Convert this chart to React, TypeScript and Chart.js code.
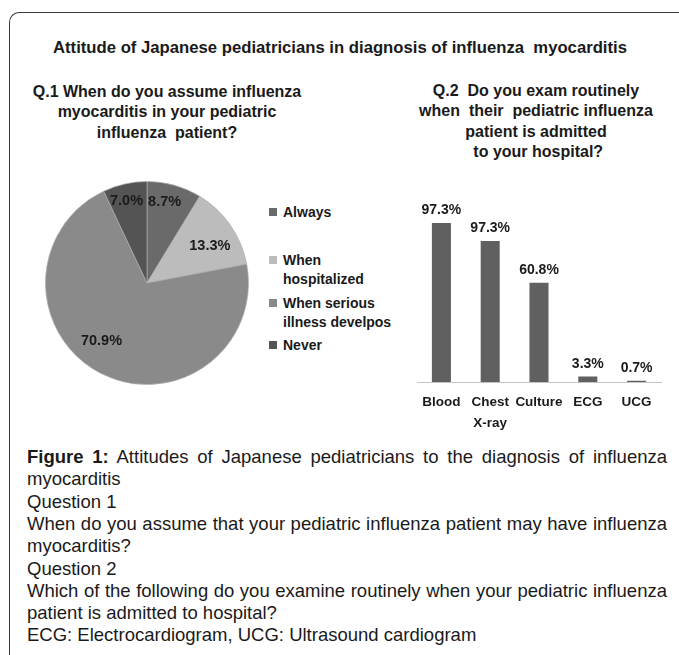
import React, { useEffect, useRef } from 'react';
import { Chart, registerables } from 'chart.js';

Chart.register(...registerables);

// ---------- data ----------
const pieLabels: string[][] = [['Always'], ['When', 'hospitalized'], ['When serious', 'illness develpos'], ['Never']];
const pieValues: number[] = [8.7, 13.3, 70.9, 7.0];
const pieValueLabels: string[] = ['8.7%', '13.3%', '70.9%', '7.0%'];

const barCategories: string[][] = [['Blood'], ['Chest', 'X-ray'], ['Culture'], ['ECG'], ['UCG']];
const barValues: number[] = [97.3, 86.3, 60.8, 3.3, 0.7];
const barValueLabels: string[] = ['97.3%', '97.3%', '60.8%', '3.3%', '0.7%'];

const mainTitle = 'Attitude of Japanese pediatricians in diagnosis of influenza  myocarditis';
const q1Title: string[] = ['Q.1 When do you assume influenza', 'myocarditis in your pediatric', 'influenza  patient?'];
const q2Title: string[] = ['Q.2  Do you exam routinely', 'when  their  pediatric influenza', 'patient is admitted', ' to your hospital?'];

const captionLines: { bold?: string; text: string; justify: boolean }[] = [
  { bold: 'Figure 1:', text: ' Attitudes of Japanese pediatricians to the diagnosis of influenza', justify: true },
  { text: 'myocarditis', justify: false },
  { text: 'Question 1', justify: false },
  { text: 'When do you assume that your pediatric influenza patient may have influenza', justify: true },
  { text: 'myocarditis?', justify: false },
  { text: 'Question 2', justify: false },
  { text: 'Which of the following do you examine routinely when your pediatric influenza', justify: true },
  { text: 'patient is admitted to hospital?', justify: false },
  { text: 'ECG: Electrocardiogram, UCG: Ultrasound cardiogram', justify: false },
];

// ---------- styles ----------
const FONT = '"Liberation Sans", Arial, Helvetica, sans-serif';
const TEXT = '#1a1a1a';
const pieColors = ['#6a6a6a', '#bcbcbc', '#8a8a8a', '#545454'];
const barColor = '#606060';
const legendTops = [212, 260, 303, 345];
// label placement inside slices (fraction of radius, angular shift in radians)
const pieLabelRadius = [0.82, 0.72, 0.73, 0.83];
const pieLabelShift = [-0.06, 0.07, 0.19, -0.025];

function PieChart() {
  const ref = useRef<HTMLCanvasElement>(null);
  useEffect(() => {
    const labelPlugin = {
      id: 'pieValueLabels',
      afterDatasetsDraw(chart: any) {
        const ctx = chart.ctx;
        const meta = chart.getDatasetMeta(0);
        ctx.save();
        ctx.font = `bold 14.5px ${FONT}`;
        ctx.fillStyle = TEXT;
        ctx.textAlign = 'center';
        ctx.textBaseline = 'middle';
        meta.data.forEach((arc: any, i: number) => {
          const p = arc.getProps(['x', 'y', 'startAngle', 'endAngle', 'outerRadius'], true);
          const mid = (p.startAngle + p.endAngle) / 2 + pieLabelShift[i];
          const r = p.outerRadius * pieLabelRadius[i];
          ctx.fillText(pieValueLabels[i], p.x + Math.cos(mid) * r, p.y + Math.sin(mid) * r);
        });
        ctx.restore();
      },
    };
    const chart = new Chart(ref.current as HTMLCanvasElement, {
      type: 'pie',
      data: {
        labels: pieLabels.map((l) => l.join(' ')),
        datasets: [
          {
            data: pieValues,
            backgroundColor: pieColors,
            borderColor: 'rgba(175,175,175,0.7)',
            borderWidth: 1,
            hoverOffset: 0,
          },
        ],
      },
      options: {
        responsive: false,
        animation: false,
        events: [],
        layout: { padding: 0 },
        plugins: { legend: { display: false }, tooltip: { enabled: false } },
      },
      plugins: [labelPlugin],
    } as any);
    return () => chart.destroy();
  }, []);
  return (
    <canvas
      ref={ref}
      width={204}
      height={204}
      style={{ position: 'absolute', left: 45, top: 181, width: 204, height: 204 }}
    />
  );
}

function BarChart() {
  const ref = useRef<HTMLCanvasElement>(null);
  useEffect(() => {
    const valuePlugin = {
      id: 'barValueLabels',
      afterDatasetsDraw(chart: any) {
        const ctx = chart.ctx;
        const meta = chart.getDatasetMeta(0);
        ctx.save();
        ctx.font = `bold 14px ${FONT}`;
        ctx.fillStyle = TEXT;
        ctx.textAlign = 'center';
        ctx.textBaseline = 'middle';
        meta.data.forEach((bar: any, i: number) => {
          const p = bar.getProps(['x', 'y'], true);
          ctx.fillText(barValueLabels[i], p.x, p.y - 12.5);
        });
        ctx.restore();
      },
    };
    const chart = new Chart(ref.current as HTMLCanvasElement, {
      type: 'bar',
      data: {
        labels: barCategories,
        datasets: [
          {
            data: barValues,
            backgroundColor: barColor,
            categoryPercentage: 1,
            barPercentage: 0.39,
          },
        ],
      },
      options: {
        responsive: false,
        animation: false,
        events: [],
        layout: { padding: { top: 28.6, left: 17, right: 18, bottom: 8 } },
        plugins: { legend: { display: false }, tooltip: { enabled: false } },
        scales: {
          x: {
            grid: { display: false, drawTicks: false },
            border: { display: true, color: '#c4c4c4', width: 1 },
            ticks: {
              font: { family: FONT, size: 13.5, weight: 'bold', lineHeight: 1.6 },
              color: TEXT,
              padding: 9,
              maxRotation: 0,
              autoSkip: false,
            },
            afterFit: (s: any) => {
              s.height = 50;
            },
          },
          y: { display: false, min: 0, max: 100 },
        },
      },
      plugins: [valuePlugin],
    } as any);
    return () => chart.destroy();
  }, []);
  return (
    <canvas
      ref={ref}
      width={279}
      height={250}
      style={{ position: 'absolute', left: 400, top: 190, width: 279, height: 250 }}
    />
  );
}

function CenteredLines({ lines, cx, firstCy, step, size }: { lines: string[]; cx: number; firstCy: number; step: number; size: number }) {
  return (
    <>
      {lines.map((l, i) => (
        <div
          key={i}
          style={{
            position: 'absolute',
            left: cx - 400,
            width: 800,
            top: firstCy + i * step - step / 2,
            height: step,
            lineHeight: `${step}px`,
            textAlign: 'center',
            fontWeight: 'bold',
            fontSize: size,
            whiteSpace: 'pre',
            color: TEXT,
          }}
        >
          {l}
        </div>
      ))}
    </>
  );
}

export default function App() {
  return (
    <div
      style={{
        position: 'absolute',
        left: 0,
        top: 0,
        width: 679,
        height: 655,
        overflow: 'hidden',
        background: '#fff',
        fontFamily: FONT,
        color: TEXT,
      }}
    >
      <div
        style={{
          position: 'absolute',
          left: 9,
          top: 12,
          width: 720,
          height: 720,
          borderLeft: '1px solid #3a3a3a',
          borderTop: '1px solid #3a3a3a',
          borderTopLeftRadius: 10,
          boxSizing: 'border-box',
        }}
      />
      <CenteredLines lines={[mainTitle]} cx={340} firstCy={48} step={20} size={16.7} />
      <CenteredLines lines={q1Title} cx={167} firstCy={92} step={20.5} size={16} />
      <CenteredLines lines={q2Title} cx={536} firstCy={91} step={20.4} size={16} />

      <PieChart />
      <BarChart />

      {pieLabels.map((lines, i) => (
        <div key={i}>
          <div
            style={{
              position: 'absolute',
              left: 269,
              top: legendTops[i] - 4,
              width: 8,
              height: 8,
              background: pieColors[i],
            }}
          />
          {lines.map((l, j) => (
            <div
              key={j}
              style={{
                position: 'absolute',
                left: 283,
                top: legendTops[i] + j * 18.5 - 9,
                height: 18,
                lineHeight: '18px',
                fontSize: 14,
                fontWeight: 'bold',
                whiteSpace: 'pre',
              }}
            >
              {l}
            </div>
          ))}
        </div>
      ))}

      {captionLines.map((c, i) => (
        <div
          key={i}
          style={{
            position: 'absolute',
            left: 27,
            width: 640,
            top: 457 + i * 22.3 - 11,
            height: 22,
            lineHeight: '22px',
            fontSize: 18.5,
            textAlign: c.justify ? 'justify' : 'left',
            textAlignLast: c.justify ? 'justify' : 'left',
            whiteSpace: 'normal',
          } as any}
        >
          {c.bold ? <b>{c.bold}</b> : null}
          {c.text}
        </div>
      ))}
    </div>
  );
}
